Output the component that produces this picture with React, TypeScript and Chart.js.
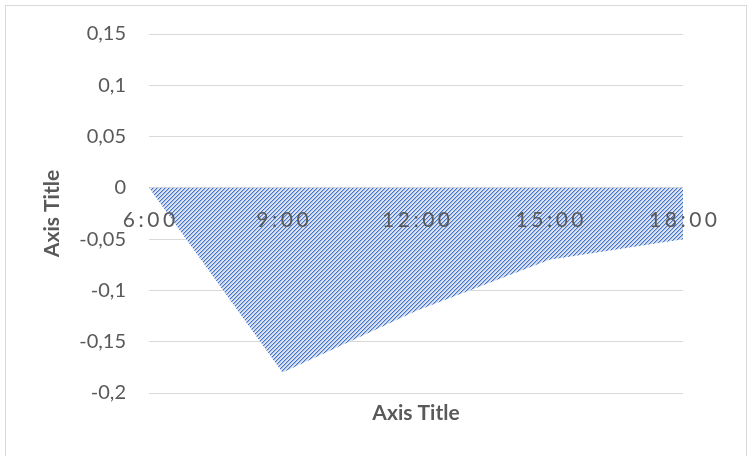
import React, { useEffect, useRef } from 'react';
import { Chart, registerables } from 'chart.js';

Chart.register(...registerables);

// ---- data ----
const categories = ['6:00', '9:00', '12:00', '15:00', '18:00'];
const values = [0, -0.18, -0.12, -0.07, -0.05];
const yMin = -0.2;
const yMax = 0.15;
const yStep = 0.05;
const xAxisTitle = 'Axis Title';
const yAxisTitle = 'Axis Title';

const TEXT = '#595959';
const GRID = '#d9d9d9';
const FONT = 'Lato, Calibri, "Open Sans", sans-serif';

function makePattern(): CanvasPattern | string {
  const c = document.createElement('canvas');
  c.width = 8;
  c.height = 8;
  const p = c.getContext('2d');
  if (!p) return '#8fa9dc';
  p.fillStyle = '#dae3f3';
  p.fillRect(0, 0, 8, 8);
  p.fillStyle = '#4472c4';
  for (let y = 0; y < 8; y++) {
    for (let x = 0; x < 8; x++) {
      const m = (x + y) % 4;
      if (m === 0) p.fillRect(x, y, 1, 1);
    }
  }
  p.fillStyle = 'rgba(68,114,196,0.35)';
  for (let y = 0; y < 8; y++) {
    for (let x = 0; x < 8; x++) {
      const m = (x + y) % 4;
      if (m === 1) p.fillRect(x, y, 1, 1);
    }
  }
  const pat = p.createPattern(c, 'repeat');
  return pat || '#8fa9dc';
}

const xLabelPlugin = {
  id: 'xLabelsAtZero',
  afterDatasetsDraw(chart: any) {
    const { ctx, scales } = chart;
    const xs = scales.x;
    const ys = scales.y;
    const y0 = ys.getPixelForValue(0);
    const spacing = 3.5;
    ctx.save();
    ctx.font = `21px ${FONT}`;
    ctx.fillStyle = TEXT;
    ctx.textAlign = 'center';
    ctx.textBaseline = 'middle';
    (ctx as any).letterSpacing = `${spacing}px`;
    categories.forEach((c, i) => {
      ctx.fillText(c, xs.getPixelForValue(i) + spacing / 2, y0 + 32);
    });
    ctx.restore();
  },
};

function fmt(v: number): string {
  const r = Math.round(v * 100) / 100;
  if (Math.abs(r) < 1e-9) return '0';
  return String(r).replace('.', ',');
}

export default function App() {
  const ref = useRef<HTMLCanvasElement | null>(null);

  useEffect(() => {
    document.body.style.margin = '0';
    const canvas = ref.current;
    if (!canvas) return;
    const padLeft = 30;
    const chart = new Chart(canvas, {
      type: 'line',
      data: {
        labels: categories,
        datasets: [
          {
            data: values,
            fill: 'origin',
            backgroundColor: makePattern() as any,
            borderWidth: 0,
            borderColor: 'rgba(0,0,0,0)',
            pointRadius: 0,
            tension: 0,
          },
        ],
      },
      options: {
        responsive: false,
        animation: false,
        plugins: {
          legend: { display: false },
          tooltip: { enabled: false },
        },
        layout: { padding: { left: padLeft, right: 67, top: 34, bottom: 0 } },
        scales: {
          x: {
            type: 'category',
            offset: false,
            grid: { display: false },
            border: { display: false },
            ticks: { display: false },
            title: {
              display: true,
              text: xAxisTitle,
              color: TEXT,
              font: { family: FONT, size: 21, weight: 'bold' },
              padding: { top: 0, bottom: 30 },
            },
            afterFit(s: any) {
              s.height = 63;
            },
          },
          y: {
            min: yMin,
            max: yMax,
            grid: { color: GRID, lineWidth: 1, drawTicks: false },
            border: { display: false },
            ticks: {
              stepSize: yStep,
              color: TEXT,
              padding: 23,
              font: { family: FONT, size: 20 },
              callback: (v: any) => fmt(Number(v)),
            },
            title: {
              display: true,
              text: yAxisTitle,
              color: TEXT,
              font: { family: FONT, size: 21, weight: 'bold' },
              padding: { top: 10, bottom: 0 },
            },
            afterFit(s: any) {
              s.width = 149 - padLeft;
              s.paddingTop = 0;
              s.paddingBottom = 0;
            },
          },
        },
      },
      plugins: [xLabelPlugin],
    });
    return () => chart.destroy();
  }, []);

  return (
    <div style={{ position: 'fixed', left: 0, top: 0, width: 750, height: 456, background: '#fff', overflow: 'hidden' }}>
      <div
        style={{
          position: 'absolute',
          left: 5,
          top: 5,
          width: 740,
          height: 470,
          border: `1px solid ${GRID}`,
          boxSizing: 'content-box',
        }}
      />
      <canvas ref={ref} width={750} height={456} style={{ position: 'absolute', left: 0, top: 0 }} />
    </div>
  );
}
